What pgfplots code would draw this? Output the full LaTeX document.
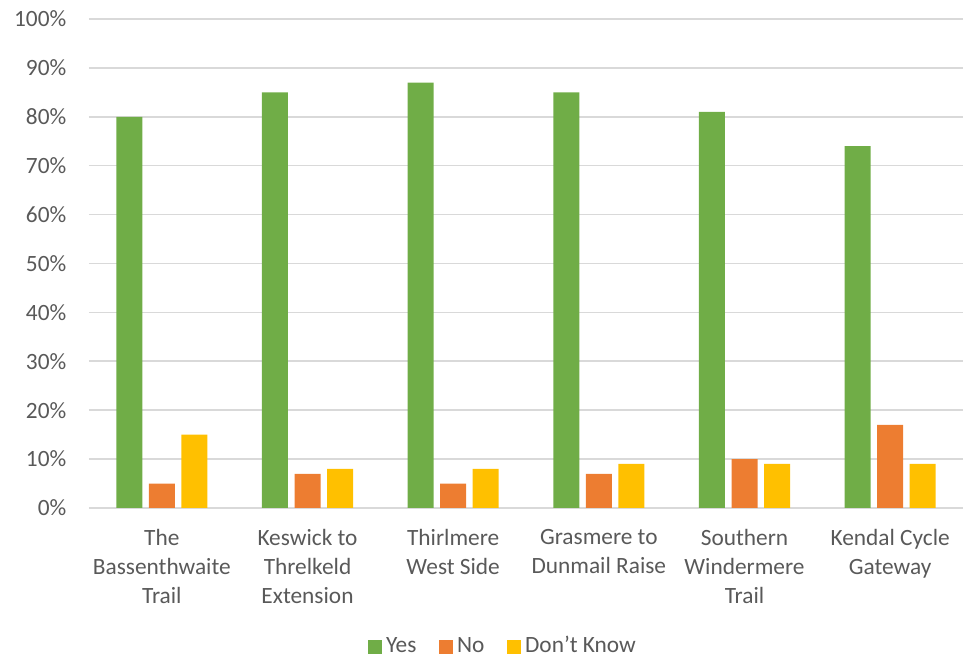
\documentclass[border=0pt]{standalone}
\usepackage{pgfplots}
\pgfplotsset{compat=1.18}
\usepackage{fontspec}
\setmainfont{Carlito}
\definecolor{cyes}{HTML}{70AD47}
\definecolor{cno}{HTML}{ED7D31}
\definecolor{cdk}{HTML}{FFC000}
\definecolor{tgray}{HTML}{595959}
\definecolor{ggray}{HTML}{D9D9D9}
\begin{document}
\fontsize{17.5}{22}\selectfont
\begin{tikzpicture}
\path[use as bounding box] (0,0) rectangle (723pt,494.25pt);
\begin{axis}[
  at={(66.75pt,113.25pt)}, anchor=south west,
  scale only axis, width=655.5pt, height=366.75pt,
  ybar, bar width=19.5pt,
  xmin=-0.5, xmax=5.5, ymin=0, ymax=100,
  xtick=data,
  xticklabels={{The\\Bassenthwaite\\Trail},{Keswick to\\Threlkeld\\Extension},{Thirlmere\\West Side},{Grasmere to\\Dunmail Raise},{Southern\\Windermere\\Trail},{Kendal Cycle\\Gateway}},
  xticklabel style={align=center, font=\fontsize{17.5}{22}\selectfont, text=tgray, yshift=-9.75pt},
  ytick={0,10,...,100},
  yticklabel={\pgfmathprintnumber{\tick}\%},
  yticklabel style={font=\fontsize{17.5}{22}\selectfont, text=tgray, xshift=-11pt},
  /pgf/number format/assume math mode=true,
  major tick length=0pt,
  ymajorgrids, grid style={ggray, line width=1.2pt},
  axis x line*=bottom, axis y line*=left,
  y axis line style={draw=none},
  x axis line style={ggray, line width=1.2pt, -},
  legend style={at={(0.474,-0.283)}, anchor=center, draw=none, legend columns=-1,
    inner sep=0pt, nodes={inner ysep=1pt},
    font=\fontsize{17.5}{22}\selectfont, text=tgray,
    /tikz/every odd column/.append style={column sep=1pt},
    /tikz/every even column/.append style={column sep=15pt}},
  legend image code/.code={\fill[#1] (0pt,-5.5pt) rectangle (10.5pt,5pt);},
  clip=false,
]
\addplot[fill=cyes, draw=none, bar shift=-24.4pt] coordinates {(0,80) (1,85) (2,87) (3,85) (4,81) (5,74)};
\addplot[fill=cno, draw=none, bar shift=0pt] coordinates {(0,5) (1,7) (2,5) (3,7) (4,10) (5,17)};
\addplot[fill=cdk, draw=none, bar shift=24.4pt] coordinates {(0,15) (1,8) (2,8) (3,9) (4,9) (5,9)};
\legend{Yes,No,Don’t Know}
\end{axis}
\end{tikzpicture}
\end{document}
